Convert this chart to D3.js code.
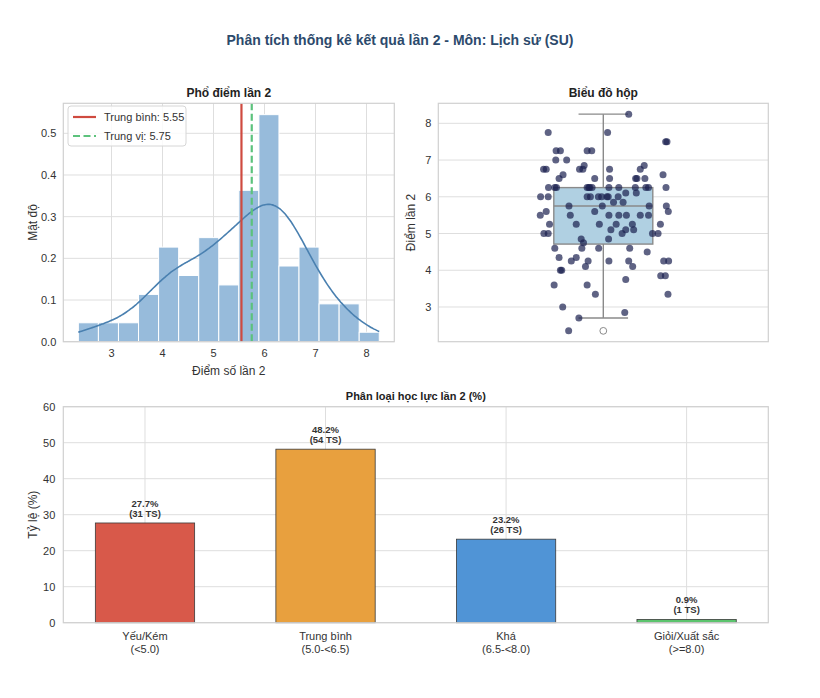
<!DOCTYPE html>
<html><head><meta charset="utf-8">
<script src="https://cdn.jsdelivr.net/npm/d3@7"></script>
<style>
body{margin:0;background:#fff;}
text{font-family:"Liberation Sans",Arial,sans-serif;}
</style></head>
<body><svg id="c" width="820" height="698"></svg>
<script>
// ---------- DATA ----------
const mainTitle = "Phân tích thống kê kết quả lần 2 - Môn: Lịch sử (SU)";
const histTitle = "Phổ điểm lần 2";
const boxTitle = "Biểu đồ hộp";
const barTitle = "Phân loại học lực lần 2 (%)";
// scores of the 112 candidates
const scores = [2.35,2.7,2.85,3.0,3.35,3.35,3.6,3.6,3.75,3.85,3.85,4.0,4.0,4.1,4.1,
 4.25,4.25,4.25,4.25,4.25,4.25,4.35,4.35,4.5,4.6,4.6,4.6,4.6,4.75,4.85,4.85,
 5.0,5.0,5.0,5.0,5.0,5.1,5.1,5.1,5.25,5.25,5.25,5.25,5.25,5.25,
 5.5,5.5,5.5,5.5,5.5,5.5,5.5,5.6,5.6,5.6,5.75,5.75,5.75,5.75,5.85,5.85,
 6.0,6.0,6.0,6.0,6.0,6.0,6.0,6.0,6.0,6.1,6.1,
 6.25,6.25,6.25,6.25,6.25,6.25,6.25,6.25,6.25,6.25,6.25,6.25,6.25,
 6.5,6.5,6.5,6.5,6.5,6.5,6.6,6.6,6.75,6.75,6.75,6.75,6.75,6.75,6.85,6.85,
 7.0,7.0,7.25,7.25,7.25,7.25,7.5,7.5,7.75,7.75,8.25];
// horizontal jitter of each strip point (category units)
const jitter = [-0.105,-0.074,0.065,-0.123,-0.024,0.196,-0.149,-0.049,0.068,0.174,0.188,-0.130,-0.126,-0.054,0.089,
 -0.097,-0.046,0.017,0.077,0.183,0.198,-0.134,-0.082,0.133,-0.147,-0.065,-0.014,0.080,-0.060,-0.067,0.016,
 -0.180,-0.167,0.057,0.149,0.166,0.023,0.068,0.092,-0.163,-0.082,-0.012,0.039,0.088,0.173,
 -0.191,-0.100,0.017,0.047,0.070,0.112,0.137,-0.173,-0.026,0.197,-0.104,-0.003,0.139,0.191,0.031,0.060,
 -0.190,-0.167,-0.049,-0.039,-0.015,-0.005,0.011,0.015,0.045,0.068,0.100,
 -0.166,-0.147,-0.142,-0.049,-0.044,-0.041,-0.034,0.017,0.047,0.097,0.129,0.137,0.190,
 -0.134,-0.026,0.019,0.098,0.102,0.126,-0.122,0.181,-0.181,-0.173,-0.072,-0.062,0.019,0.112,-0.058,0.124,
 -0.144,-0.111,-0.143,-0.130,-0.049,-0.035,0.189,0.193,-0.167,0.013,0.077];
const histBinCount = 15;
const histXTicks = [3,4,5,6,7,8];
const histYTicks = [0,0.1,0.2,0.3,0.4,0.5];
const boxYTicks = [3,4,5,6,7,8];
const categories = [["Yếu/Kém","(<5.0)"],["Trung bình","(5.0-<6.5)"],["Khá","(6.5-<8.0)"],["Giỏi/Xuất sắc","(>=8.0)"]];
const catPercent = [27.7,48.2,23.2,0.9];
const catCount = [31,54,26,1];
const catColors = ["#d8594a","#e8a03e","#5094d6","#5cc46e"];
const barYTicks = [0,10,20,30,40,50,60];

// ---------- HELPERS ----------
const svg = d3.select("#c");
svg.append("rect").attr("width",820).attr("height",698).attr("fill","#fff");
const gridC = "#dedede", spineC = "#d0d0d0", tickC = "#333";

svg.append("text").attr("x",400).attr("y",45).attr("text-anchor","middle")
  .attr("font-size",14).attr("font-weight","bold").attr("fill","#2c4a6c").text(mainTitle);

function frame(g,x0,y0,x1,y1){
  g.append("rect").attr("x",x0).attr("y",y0).attr("width",x1-x0).attr("height",y1-y0)
   .attr("fill","none").attr("stroke",spineC).attr("stroke-width",1.2);
}

// ---------- HISTOGRAM ----------
{
  const L=63.3,R=394.3,T=103.3,B=341.7;
  const mn=d3.min(scores), mx=d3.max(scores), pad=(mx-mn)*0.05;
  const x=d3.scaleLinear().domain([mn-pad,mx+pad]).range([L,R]);
  const w=(mx-mn)/histBinCount;
  const th=d3.range(1,histBinCount).map(i=>mn+i*w);
  const bins=d3.bin().domain([mn,mx]).thresholds(th)(scores);
  const n=scores.length;
  const dens=bins.map(b=>({x0:b.x0,x1:b.x1,d:b.length/(n*(b.x1-b.x0))}));
  const ymax=d3.max(dens,d=>d.d)*1.05;
  const y=d3.scaleLinear().domain([0,ymax]).range([B,T]);
  const g=svg.append("g");
  g.append("g").selectAll("line").data(histYTicks).join("line")
   .attr("x1",L).attr("x2",R).attr("y1",d=>y(d)).attr("y2",d=>y(d)).attr("stroke",gridC);
  g.append("g").selectAll("line").data(histXTicks).join("line")
   .attr("y1",T).attr("y2",B).attr("x1",d=>x(d)).attr("x2",d=>x(d)).attr("stroke",gridC);
  g.append("g").selectAll("rect").data(dens).join("rect")
   .attr("x",d=>x(d.x0)).attr("width",d=>x(d.x1)-x(d.x0))
   .attr("y",d=>y(d.d)).attr("height",d=>B-y(d.d))
   .attr("fill","#97bbdb").attr("stroke","#fff").attr("stroke-width",1);
  // KDE (gaussian, Scott bandwidth)
  const sd=d3.deviation(scores), h=sd*Math.pow(n,-0.2);
  const xs=d3.range(0,201).map(i=>mn+(mx-mn)*i/200);
  const kde=xs.map(v=>[v,d3.sum(scores,s=>Math.exp(-0.5*((v-s)/h)**2))/(n*h*Math.sqrt(2*Math.PI))]);
  g.append("path").datum(kde).attr("fill","none").attr("stroke","#4a80b0").attr("stroke-width",1.6)
   .attr("d",d3.line().x(d=>x(d[0])).y(d=>y(d[1])).curve(d3.curveBasis));
  const mean=d3.mean(scores), med=d3.median(scores);
  g.append("line").attr("x1",x(mean)).attr("x2",x(mean)).attr("y1",T).attr("y2",B)
   .attr("stroke","#cf4a3f").attr("stroke-width",2.2);
  g.append("line").attr("x1",x(med)).attr("x2",x(med)).attr("y1",T).attr("y2",B)
   .attr("stroke","#5cc27c").attr("stroke-width",2.2).attr("stroke-dasharray","7,3.5");
  frame(g,L,T,R,B);
  g.append("g").selectAll("text").data(histYTicks).join("text")
   .attr("x",L-7).attr("y",d=>y(d)+4).attr("text-anchor","end").attr("font-size",11).attr("fill",tickC)
   .text(d=>d.toFixed(1));
  g.append("g").selectAll("text").data(histXTicks).join("text")
   .attr("x",d=>x(d)).attr("y",B+15).attr("text-anchor","middle").attr("font-size",11).attr("fill",tickC)
   .text(d=>d);
  g.append("text").attr("x",(L+R)/2).attr("y",375).attr("text-anchor","middle").attr("font-size",12).attr("fill",tickC).text("Điểm số lần 2");
  g.append("text").attr("transform",`translate(37,${(T+B)/2}) rotate(-90)`).attr("text-anchor","middle").attr("font-size",12).attr("fill",tickC).text("Mật độ");
  g.append("text").attr("x",(L+R)/2).attr("y",97).attr("text-anchor","middle").attr("font-size",12).attr("font-weight","bold").attr("fill","#222").text(histTitle);
  // legend
  const lg=g.append("g");
  lg.append("rect").attr("x",68).attr("y",106).attr("width",118).attr("height",40).attr("rx",3)
   .attr("fill","#fff").attr("fill-opacity",0.85).attr("stroke","#d6d6d6");
  lg.append("line").attr("x1",73).attr("x2",96).attr("y1",117).attr("y2",117).attr("stroke","#cf4a3f").attr("stroke-width",2.2);
  lg.append("line").attr("x1",73).attr("x2",96).attr("y1",136).attr("y2",136).attr("stroke","#5cc27c").attr("stroke-width",2.2).attr("stroke-dasharray","7,3.5");
  lg.append("text").attr("x",104).attr("y",121).attr("font-size",11).attr("fill",tickC).text("Trung bình: "+mean.toFixed(2));
  lg.append("text").attr("x",104).attr("y",140).attr("font-size",11).attr("fill",tickC).text("Trung vị: "+med.toFixed(2));
}

// ---------- BOX PLOT ----------
{
  const L=438.3,R=768.3,T=103.3,B=341.7;
  const mn=d3.min(scores), mx=d3.max(scores), pad=(mx-mn)*0.05;
  const y=d3.scaleLinear().domain([mn-pad,mx+pad]).range([B,T]);
  const x=d3.scaleLinear().domain([-0.5,0.5]).range([L,R]);
  const g=svg.append("g");
  g.append("g").selectAll("line").data(boxYTicks).join("line")
   .attr("x1",L).attr("x2",R).attr("y1",d=>y(d)).attr("y2",d=>y(d)).attr("stroke",gridC);
  const sorted=scores.slice().sort(d3.ascending);
  const q1=d3.quantileSorted(sorted,0.25), q3=d3.quantileSorted(sorted,0.75), md=d3.quantileSorted(sorted,0.5);
  const iqr=q3-q1;
  const lo=d3.min(sorted.filter(v=>v>=q1-1.5*iqr)), hi=d3.max(sorted.filter(v=>v<=q3+1.5*iqr));
  const fl=sorted.filter(v=>v<lo||v>hi);
  const bw=0.3, cw=0.15, wc="#8a8a8a";
  g.append("line").attr("x1",x(0)).attr("x2",x(0)).attr("y1",y(q3)).attr("y2",y(hi)).attr("stroke",wc).attr("stroke-width",1.4);
  g.append("line").attr("x1",x(0)).attr("x2",x(0)).attr("y1",y(q1)).attr("y2",y(lo)).attr("stroke",wc).attr("stroke-width",1.4);
  g.append("line").attr("x1",x(-cw/2)).attr("x2",x(cw/2)).attr("y1",y(hi)).attr("y2",y(hi)).attr("stroke",wc).attr("stroke-width",1.4);
  g.append("line").attr("x1",x(-cw/2)).attr("x2",x(cw/2)).attr("y1",y(lo)).attr("y2",y(lo)).attr("stroke",wc).attr("stroke-width",1.4);
  g.append("rect").attr("x",x(-bw/2)).attr("width",x(bw/2)-x(-bw/2)).attr("y",y(q3)).attr("height",y(q1)-y(q3))
   .attr("fill","#b0d0e2").attr("stroke",wc).attr("stroke-width",1.4);
  g.append("line").attr("x1",x(-bw/2)).attr("x2",x(bw/2)).attr("y1",y(md)).attr("y2",y(md)).attr("stroke",wc).attr("stroke-width",1.4);
  g.append("g").selectAll("circle").data(fl).join("circle").attr("cx",x(0)).attr("cy",d=>y(d)).attr("r",3.4)
   .attr("fill","#fff").attr("stroke",wc).attr("stroke-width",1);
  g.append("g").selectAll("circle").data(scores.map((v,i)=>[jitter[i],v])).join("circle")
   .attr("cx",d=>x(d[0])).attr("cy",d=>y(d[1])).attr("r",3.5)
   .attr("fill","#1b2150").attr("fill-opacity",0.7);
  frame(g,L,T,R,B);
  g.append("g").selectAll("text").data(boxYTicks).join("text")
   .attr("x",L-7).attr("y",d=>y(d)+4).attr("text-anchor","end").attr("font-size",11).attr("fill",tickC).text(d=>d);
  g.append("text").attr("transform",`translate(415,${(T+B)/2}) rotate(-90)`).attr("text-anchor","middle").attr("font-size",12).attr("fill",tickC).text("Điểm lần 2");
  g.append("text").attr("x",(L+R)/2).attr("y",97).attr("text-anchor","middle").attr("font-size",12).attr("font-weight","bold").attr("fill","#222").text(boxTitle);
}

// ---------- BAR CHART ----------
{
  const L=63.3,R=768.3,T=406.7,B=622.7;
  const bwid=0.55, pad=(categories.length-1+bwid)*0.05;
  const x=d3.scaleLinear().domain([-bwid/2-pad,categories.length-1+bwid/2+pad]).range([L,R]);
  const y=d3.scaleLinear().domain([0,60]).range([B,T]);
  const g=svg.append("g");
  g.append("g").selectAll("line").data(barYTicks).join("line")
   .attr("x1",L).attr("x2",R).attr("y1",d=>y(d)).attr("y2",d=>y(d)).attr("stroke",gridC);
  g.append("g").selectAll("line").data(categories).join("line")
   .attr("y1",T).attr("y2",B).attr("x1",(d,i)=>x(i)).attr("x2",(d,i)=>x(i)).attr("stroke",gridC);
  g.append("g").selectAll("rect").data(catPercent).join("rect")
   .attr("x",(d,i)=>x(i-bwid/2)).attr("width",x(bwid)-x(0))
   .attr("y",d=>y(d)).attr("height",d=>B-y(d))
   .attr("fill",(d,i)=>catColors[i]).attr("stroke","#3a3a3a").attr("stroke-width",0.8);
  const lab=g.append("g").selectAll("text").data(catPercent).join("text")
   .attr("text-anchor","middle").attr("font-size",9.5).attr("font-weight","bold").attr("fill","#333");
  lab.append("tspan").attr("x",(d,i)=>x(i)).attr("y",d=>y(d)-16).text(d=>d.toFixed(1)+"%");
  lab.append("tspan").attr("x",(d,i)=>x(i)).attr("y",d=>y(d)-6).text((d,i)=>"("+catCount[i]+" TS)");
  frame(g,L,T,R,B);
  g.append("g").selectAll("text").data(barYTicks).join("text")
   .attr("x",L-8).attr("y",d=>y(d)+4).attr("text-anchor","end").attr("font-size",11).attr("fill",tickC).text(d=>d);
  const xl=g.append("g").selectAll("text").data(categories).join("text")
   .attr("text-anchor","middle").attr("font-size",11).attr("fill",tickC);
  xl.append("tspan").attr("x",(d,i)=>x(i)).attr("y",640).text(d=>d[0]);
  xl.append("tspan").attr("x",(d,i)=>x(i)).attr("y",653).text(d=>d[1]);
  g.append("text").attr("transform",`translate(37,${(T+B)/2}) rotate(-90)`).attr("text-anchor","middle").attr("font-size",12).attr("fill",tickC).text("Tỷ lệ (%)");
  g.append("text").attr("x",(L+R)/2).attr("y",400).attr("text-anchor","middle").attr("font-size",11).attr("font-weight","bold").attr("fill","#222").text(barTitle);
}
</script></body></html>
